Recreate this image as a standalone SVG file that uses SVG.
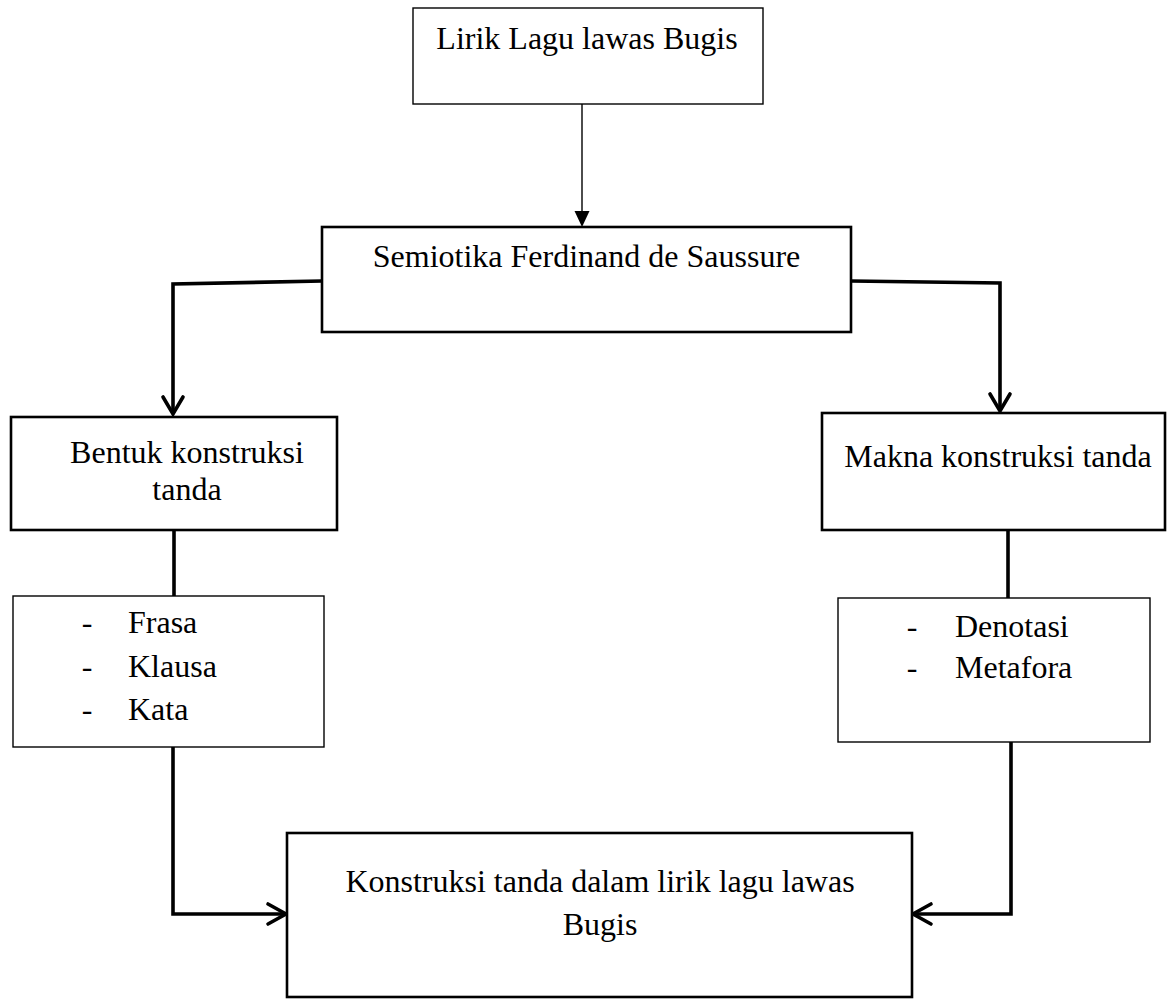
<svg xmlns="http://www.w3.org/2000/svg" width="1167" height="1000" viewBox="0 0 1167 1000">
<style>
  text { font-family: "Liberation Serif", "Times New Roman", serif; font-size: 32px; fill: #000; }
  .c { text-anchor: middle; }
  .thin { fill: #fff; stroke: #000; stroke-width: 1.4; }
  .thick { fill: #fff; stroke: #000; stroke-width: 2.6; }
  .conn { fill: none; stroke: #000; stroke-width: 3.6; stroke-linejoin: miter; }
  .head { fill: none; stroke: #000; stroke-width: 3.6; stroke-linecap: round; stroke-linejoin: miter; }
</style>
<rect x="0" y="0" width="1167" height="1000" fill="#fff"/>
<g id="connectors">
  <line x1="582" y1="104" x2="582" y2="213" stroke="#000" stroke-width="1.4"/>
  <polygon points="574.5,211 589.5,211 582,227" fill="#000"/>
  <polyline class="conn" points="322,281 173,284 173,413"/>
  <polyline class="head" points="163,397 173,414 183,397"/>
  <polyline class="conn" points="851,281 1000,283 1000,410"/>
  <polyline class="head" points="990,394 1000,411 1010,394"/>
  <line class="conn" x1="174" y1="530" x2="174" y2="596"/>
  <line class="conn" x1="1008" y1="530" x2="1008" y2="598"/>
  <polyline class="conn" points="173,747 173,914 285,914"/>
  <polyline class="head" points="268,904 286,914 268,924"/>
  <polyline class="conn" points="1011,742 1011,914 914,914"/>
  <polyline class="head" points="931,904 913,914 931,924"/>
</g>
<g id="node-lirik">
  <rect class="thin" x="413" y="8" width="350" height="96"/>
  <text class="c" x="587" y="49">Lirik Lagu lawas Bugis</text>
</g>
<g id="node-semiotika">
  <rect class="thick" x="322" y="227" width="529" height="105"/>
  <text class="c" x="586.5" y="267">Semiotika Ferdinand de Saussure</text>
</g>
<g id="node-bentuk">
  <rect class="thick" x="11" y="417" width="326" height="113"/>
  <text class="c" x="187" y="463">Bentuk konstruksi</text>
  <text class="c" x="187" y="500">tanda</text>
</g>
<g id="node-makna">
  <rect class="thick" x="822" y="413" width="343" height="117"/>
  <text class="c" x="998" y="467">Makna konstruksi tanda</text>
</g>
<g id="node-list-bentuk">
  <rect class="thin" x="13" y="596" width="311" height="151"/>
  <text class="c" x="87" y="633">-</text>
  <text x="128" y="633">Frasa</text>
  <text class="c" x="87" y="677">-</text>
  <text x="128" y="677">Klausa</text>
  <text class="c" x="87" y="720">-</text>
  <text x="128" y="720">Kata</text>
</g>
<g id="node-list-makna">
  <rect class="thin" x="838" y="598" width="312" height="144"/>
  <text class="c" x="912" y="637">-</text>
  <text x="955" y="637">Denotasi</text>
  <text class="c" x="912" y="678">-</text>
  <text x="955" y="678">Metafora</text>
</g>
<g id="node-konstruksi">
  <rect class="thick" x="287" y="833" width="625" height="164"/>
  <text class="c" x="600" y="892">Konstruksi tanda dalam lirik lagu lawas</text>
  <text class="c" x="600" y="935">Bugis</text>
</g>
</svg>
